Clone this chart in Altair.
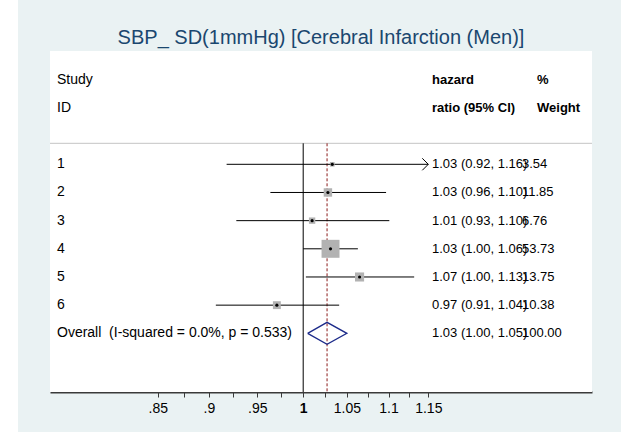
import altair as alt
import pandas as pd

# ---------------- data ----------------
title_text = "SBP_ SD(1mmHg) [Cerebral Infarction (Men)]"
studies = ["1", "2", "3", "4", "5", "6"]
hr = [1.033, 1.028, 1.010, 1.031, 1.065, 0.971]
ci_lo = [0.918, 0.964, 0.928, 1.000, 1.003, 0.907]
ci_hi = [1.160, 1.097, 1.101, 1.063, 1.132, 1.041]
weights = [3.54, 11.85, 6.76, 53.73, 13.75, 10.38]
ci_text = ["1.03 (0.92, 1.16)", "1.03 (0.96, 1.10)", "1.01 (0.93, 1.10)",
           "1.03 (1.00, 1.06)", "1.07 (1.00, 1.13)", "0.97 (0.91, 1.04)"]
weight_text = ["3.54", "11.85", "6.76", "53.73", "13.75", "10.38"]

overall_label = "Overall\u00a0\u00a0(I-squared = 0.0%, p = 0.533)"
overall_hr = 1.027
overall_lo = 1.005
overall_hi = 1.050
overall_ci_text = "1.03 (1.00, 1.05)"
overall_weight_text = "100.00"

header_left = ["Study", "ID"]
header_mid = ["hazard", "ratio (95% CI)"]
header_right = ["%", "Weight"]

tick_values = [0.85, 0.875, 0.9, 0.925, 0.95, 0.975, 1.0, 1.025, 1.05, 1.075, 1.1, 1.125, 1.15]
tick_labels = [".85", "", ".9", "", ".95", "", "1", "", "1.05", "", "1.1", "", "1.15"]

x_min, x_max = 0.7536, 1.3808   # scale limits of the plot region
x_clip = 1.15                    # CIs beyond this are drawn with an arrow

# ---------------- layout ----------------
W, H = 542, 341
PAD = {"left": 50, "top": 51, "right": 37, "bottom": 40}
y_top, y_bot = -3.022, 9.083
sep_row = 0.255
header_rows = [-2.0, -1.0]
diamond_half = 0.39
FONT = "Liberation Sans"
FS = 14
FS_R = 13

n = len(studies)
rows = list(range(1, n + 1))
overall_row = n + 1

df = pd.DataFrame({
    "row": rows, "study": studies, "hr": hr, "lo": ci_lo, "hi": ci_hi,
    "w": weights, "ci": ci_text, "wt": weight_text,
})
df["hi_draw"] = df["hi"].clip(upper=x_clip)
arrow_df = df[df["hi"] > x_clip].copy()
arrow_df["hi_draw"] = x_clip

labels_df = pd.DataFrame({
    "row": header_rows + rows + [overall_row],
    "left": header_left + studies + [overall_label],
})
ci_df = pd.DataFrame({"row": rows + [overall_row], "ci": ci_text + [overall_ci_text],
                      "wt": weight_text + [overall_weight_text]})
head_df = pd.DataFrame({"row": header_rows, "mid": header_mid, "right": header_right})

diamond_df = pd.DataFrame({
    "x": [overall_lo, overall_hr, overall_hi, overall_hr, overall_lo],
    "row": [overall_row, overall_row - diamond_half, overall_row,
            overall_row + diamond_half, overall_row],
    "o": [0, 1, 2, 3, 4],
})
vline_df = pd.DataFrame({"x": [1.0], "xo": [overall_hr], "r1": [sep_row], "r2": [y_bot]})
one = pd.DataFrame({"a": [0]})
title_df = pd.DataFrame({"t": [title_text]})

label_expr = ""
for v, l in zip(tick_values, tick_labels):
    label_expr += f"datum.value == {v} ? '{l}' : "
label_expr += "''"

xs = alt.Scale(type="log", domain=[x_min, x_max], nice=False, zero=False)
ys = alt.Scale(domain=[y_top, y_bot], reverse=True, nice=False, zero=False)

x_axis = alt.Axis(values=tick_values, labelExpr=label_expr, title=None, grid=False,
                  domainColor="#3a3a3a", domainWidth=2, tickColor="#3a3a3a", tickWidth=1,
                  tickSize=5, labelFont=FONT, labelFontSize=14, labelColor="black",
                  labelPadding=4, labelOverlap=False, labelFlush=False,
                  labelFontWeight={"condition": {"test": "datum.value == 1", "value": "bold"},
                                   "value": "normal"})

# backgrounds
strip_l = alt.Chart(one).mark_rect(color="white").encode(
    x=alt.value(-PAD["left"]), x2=alt.value(-32), y=alt.value(-PAD["top"]), y2=alt.value(H + PAD["bottom"]))
strip_r = alt.Chart(one).mark_rect(color="white").encode(
    x=alt.value(571), x2=alt.value(W + PAD["right"]), y=alt.value(-PAD["top"]), y2=alt.value(H + PAD["bottom"]))
panel = alt.Chart(one).mark_rect(color="white").encode(
    x=alt.value(0), x2=alt.value(W), y=alt.value(0), y2=alt.value(H))
title = alt.Chart(title_df).mark_text(align="center", baseline="middle", font=FONT, fontSize=20,
                                      color="#1a476f").encode(
    x=alt.value(271), y=alt.value(-13), text="t:N")

sep = alt.Chart(pd.DataFrame({"row": [sep_row]})).mark_rule(color="#c4c4c4", strokeWidth=1).encode(
    x=alt.value(0), x2=alt.value(W), y=alt.Y("row:Q", scale=ys, axis=None))

null_line = alt.Chart(vline_df).mark_rule(color="black", strokeWidth=1).encode(
    x=alt.X("x:Q", scale=xs, axis=x_axis), y=alt.Y("r1:Q", scale=ys, axis=None), y2="r2:Q")
dash_line = alt.Chart(vline_df).mark_rule(color="#8b1a1a", strokeWidth=1, strokeDash=[3, 2]).encode(
    x=alt.X("xo:Q", scale=xs), y=alt.Y("r1:Q", scale=ys), y2="r2:Q")

squares = alt.Chart(df).mark_square(color="#b2b2b2", opacity=1).encode(
    x=alt.X("hr:Q", scale=xs), y=alt.Y("row:Q", scale=ys),
    size=alt.Size("w:Q", scale=alt.Scale(type="linear", domain=[0, 100], range=[0, 600]), legend=None))
ci_lines = alt.Chart(df).mark_rule(color="black", strokeWidth=1).encode(
    x=alt.X("lo:Q", scale=xs), x2="hi_draw:Q", y=alt.Y("row:Q", scale=ys))
arrows = alt.Chart(arrow_df).mark_point(shape="M -1 -1 L 0 0 L -1 1", filled=False, size=144,
                                        color="black", strokeWidth=1, opacity=1).encode(
    x=alt.X("hi_draw:Q", scale=xs), y=alt.Y("row:Q", scale=ys))
dots = alt.Chart(df).mark_circle(size=10, color="black", opacity=1).encode(
    x=alt.X("hr:Q", scale=xs), y=alt.Y("row:Q", scale=ys))
diamond = alt.Chart(diamond_df).mark_line(color="#1c2b8a", strokeWidth=1.3).encode(
    x=alt.X("x:Q", scale=xs), y=alt.Y("row:Q", scale=ys), order="o:Q")

txt = dict(align="left", baseline="middle", font=FONT, fontSize=FS, color="black")
txt_r = dict(align="left", baseline="middle", font=FONT, fontSize=FS_R, color="black")
left_text = alt.Chart(labels_df).mark_text(**txt).encode(
    x=alt.value(7), y=alt.Y("row:Q", scale=ys), text="left:N")
ci_col = alt.Chart(ci_df).mark_text(**txt_r).encode(
    x=alt.value(382), y=alt.Y("row:Q", scale=ys), text="ci:N")
wt_col = alt.Chart(ci_df).mark_text(**txt_r).encode(
    x=alt.value(472), y=alt.Y("row:Q", scale=ys), text="wt:N")
head_mid = alt.Chart(head_df).mark_text(**txt_r, fontWeight="bold").encode(
    x=alt.value(382), y=alt.Y("row:Q", scale=ys), text="mid:N")
head_right = alt.Chart(head_df).mark_text(**txt_r, fontWeight="bold").encode(
    x=alt.value(487), y=alt.Y("row:Q", scale=ys), text="right:N")

chart = alt.layer(
    strip_l, strip_r, panel, title, sep, null_line, dash_line, ci_lines, arrows, squares, dots,
    diamond, left_text, ci_col, wt_col, head_mid, head_right,
).properties(
    width=W, height=H,
    autosize=alt.AutoSizeParams(type="none"),
    padding=PAD,
    background="#eaf2f3",
).configure_view(stroke=None)

chart.save("out.html", embed_options={"renderer": "svg", "actions": False})
